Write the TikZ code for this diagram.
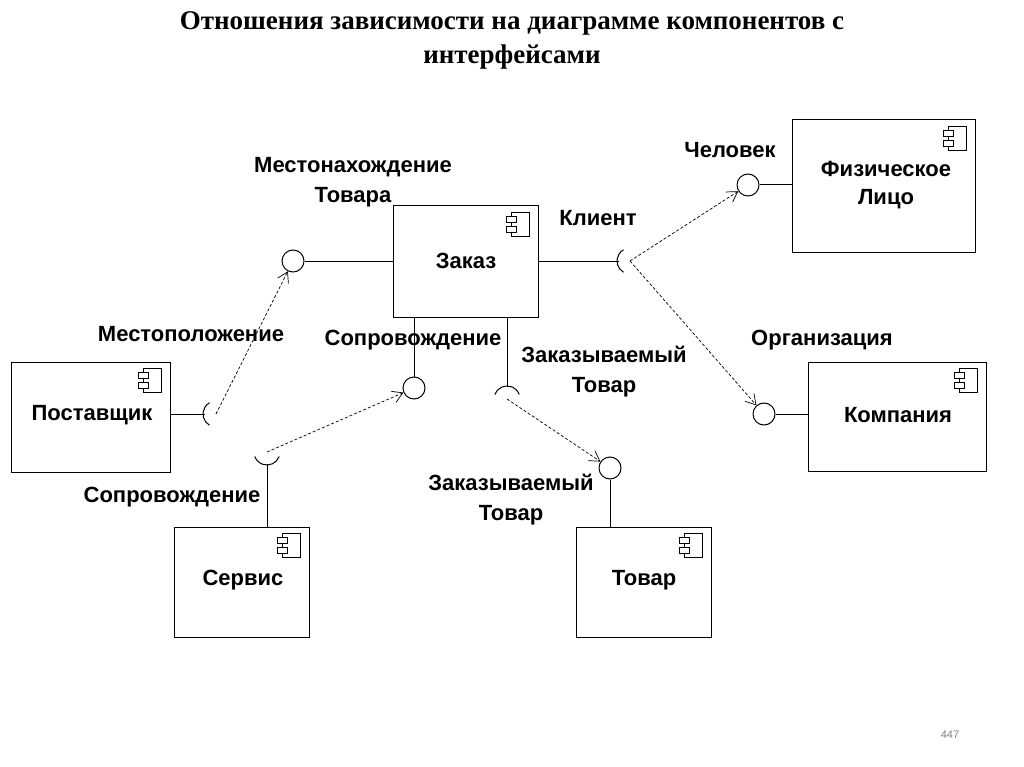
\documentclass[tikz,border=0pt]{standalone}
\usepackage{fontspec}
\setmainfont{Liberation Serif}
\setsansfont{Liberation Sans}
\usetikzlibrary{arrows.meta}
\begin{document}
\begin{tikzpicture}[x=1pt,y=-1pt,
  comp/.style={draw,line width=1pt,inner sep=0},
  lbl/.style={font=\sffamily\bfseries\fontsize{22}{26}\selectfont,inner sep=0,align=center},
  lolli/.style={draw,circle,line width=1pt,minimum width=20pt,minimum height=22pt,inner sep=0},
  wire/.style={line width=1pt},
  dep/.style={line width=0.7pt,dash pattern=on 3pt off 2pt,-{Straight Barb[length=10pt,width=12pt]}}]
\useasboundingbox (0,0) rectangle (1024,767);
\newcommand{\cicon}[1]{%
  \draw[line width=0.8pt] ($(#1.north east)+(-27,7)$) rectangle ($(#1.north east)+(-9,31)$);
  \draw[line width=0.8pt,fill=white] ($(#1.north east)+(-32,11)$) rectangle ($(#1.north east)+(-22,17)$);
  \draw[line width=0.8pt,fill=white] ($(#1.north east)+(-32,21)$) rectangle ($(#1.north east)+(-22,27)$);}
\node[font=\bfseries\fontsize{27}{34}\selectfont,align=center] (title) at (512,40)
  {Отношения зависимости на диаграмме компонентов с\\интерфейсами};
\node[font=\sffamily\fontsize{11}{13}\selectfont,text=gray] (pg) at (950,735) {447};
% components
\node[comp,minimum width=145pt,minimum height=111pt] (zakaz) at (465.5,261.5) {};
\node[comp,minimum width=183pt,minimum height=132pt] (fiz) at (883.5,186) {};
\node[comp,minimum width=159pt,minimum height=110pt] (post) at (90.5,417) {};
\node[comp,minimum width=178pt,minimum height=109pt] (komp) at (897,416.5) {};
\node[comp,minimum width=135pt,minimum height=110pt] (serv) at (241.5,582) {};
\node[comp,minimum width=135pt,minimum height=110pt] (tovar) at (643.5,582) {};
\usetikzlibrary{calc}
\foreach \c in {zakaz,fiz,post,komp,serv,tovar}{\cicon{\c}}
\node[lbl] at (466,261) {Заказ};
\node[lbl] at (886,185) {Физическое\\[2pt]Лицо};
\node[lbl] at (92,415) {Поставщик};
\node[lbl] at (898,415) {Компания};
\node[lbl] at (243,580) {Сервис};
\node[lbl] at (644,580) {Товар};
% provided interfaces (lollipops)
\node[lolli] (iMest) at (293,261) {};
\node[lolli] (iChel) at (748,185) {};
\node[lolli] (iOrg) at (764,414) {};
\node[lolli] (iSopr) at (414,388) {};
\node[lolli] (iTov) at (610,468) {};
\draw[wire] (iMest.east) -- (zakaz.west |- iMest.east);
\draw[wire] (iChel.east) -- (fiz.west |- iChel.east);
\draw[wire] (iOrg.east) -- (komp.west |- iOrg.east);
\draw[wire] (iSopr.north) -- (iSopr.north |- zakaz.south);
\draw[wire] (iTov.south) -- (iTov.south |- tovar.north);
% required interfaces (sockets)
\coordinate (sKl) at (630,261);
\coordinate (sPost) at (216,414);
\coordinate (sZak) at (507,399);
\coordinate (sServ) at (267,452);
\draw[wire] (zakaz.east |- sKl) -- ++(80,0);
\draw[wire] ($(sKl)+(120:13)$) arc[start angle=120,end angle=240,radius=13];
\draw[wire] (post.east |- sPost) -- ++(34,0);
\draw[wire] ($(sPost)+(120:13)$) arc[start angle=120,end angle=240,radius=13];
\draw[wire] (sZak |- zakaz.south) -- ++(0,69);
\draw[wire] ($(sZak)+(200:13)$) arc[start angle=200,end angle=340,radius=13];
\draw[wire] (sServ |- serv.north) -- ++(0,-63);
\draw[wire] ($(sServ)+(20:13)$) arc[start angle=20,end angle=160,radius=13];
% dependencies
\draw[dep] (sPost) -- (iMest);
\draw[dep] (sServ) -- (iSopr);
\draw[dep] (sZak) -- (iTov);
\draw[dep] (sKl) -- (iChel);
\draw[dep] (sKl) -- (iOrg);
% labels
\node[lbl] at (353,182) {Местонахождение\\[4pt]Товара};
\node[lbl] at (598,218) {Клиент};
\node[lbl] at (730,150) {Человек};
\node[lbl] at (191,334) {Местоположение};
\node[lbl] at (413,340) {Сопровождение};
\node[lbl] at (604,372) {Заказываемый\\[4pt]Товар};
\node[lbl] at (822,340) {Организация};
\node[lbl] at (172,497) {Сопровождение};
\node[lbl] at (511,500) {Заказываемый\\[4pt]Товар};
\end{tikzpicture}
\end{document}
